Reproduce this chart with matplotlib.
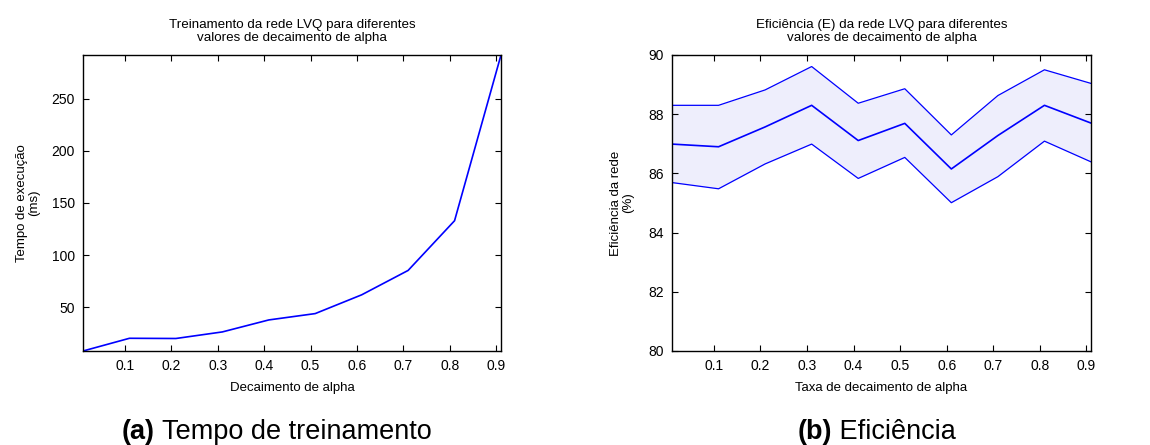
import numpy as np
import matplotlib
matplotlib.use("Agg")
import matplotlib.pyplot as plt

plt.rcParams['font.family'] = ['Liberation Sans', 'DejaVu Sans']

# Decay rates tested
decay = [0.01, 0.11, 0.21, 0.31, 0.41, 0.51, 0.61, 0.71, 0.81, 0.91]

# Training time (ms)
train_time = [8, 20.2, 20.0, 26.3, 37.8, 43.9, 61.9, 85.3, 133, 292]

# Network efficiency (%): mean and band limits
eff_upper = [88.30, 88.30, 88.82, 89.61, 88.37, 88.86, 87.30, 88.63, 89.50, 89.04]
eff_mean = [86.99, 86.90, 87.57, 88.30, 87.11, 87.69, 86.15, 87.28, 88.30, 87.70]
eff_lower = [85.69, 85.48, 86.32, 86.99, 85.83, 86.54, 85.01, 85.89, 87.09, 86.39]

xticks = [0.1, 0.2, 0.3, 0.4, 0.5, 0.6, 0.7, 0.8, 0.9]
xticklabels = ['0.1', '0.2', '0.3', '0.4', '0.5', '0.6', '0.7', '0.8', '0.9']

W, H = 1150, 445
fig = plt.figure(figsize=(W / 100, H / 100), dpi=100)

def axrect(x0, y0, x1, y1):
    return [x0 / W, 1 - y1 / H, (x1 - x0) / W, (y1 - y0) / H]

ax1 = fig.add_axes(axrect(83, 55, 501, 351))
ax2 = fig.add_axes(axrect(672, 55, 1091, 351))

def style(ax):
    ax.tick_params(direction='in', top=True, right=True, length=4, width=0.8,
                   labelsize=10, pad=6, colors='black')
    for s in ax.spines.values():
        s.set_linewidth(1.0)
    ax.set_xticks(xticks)
    ax.set_xticklabels(xticklabels)
    ax.set_xlim(0.01, 0.91)

TITLE_SIZE = 9.6

# (a) training time
ax1.plot(decay, train_time, color='#0000ff', lw=1.2)
style(ax1)
ax1.set_ylim(8, 292)
ax1.set_yticks([50, 100, 150, 200, 250])
ax1.set_title('Treinamento da rede LVQ para diferentes\nvalores de decaimento de alpha',
              fontsize=TITLE_SIZE, pad=10, linespacing=1.15)
ax1.set_xlabel('Decaimento de alpha', fontsize=9.5, labelpad=6)
ax1.set_ylabel('Tempo de execução\n(ms)', fontsize=9.5, labelpad=8, linespacing=1.0)

# (b) efficiency
ax2.fill_between(decay, eff_lower, eff_upper, color='#eeeefc', lw=0)
ax2.plot(decay, eff_upper, color='#0000ff', lw=0.9)
ax2.plot(decay, eff_mean, color='#0000ff', lw=1.2)
ax2.plot(decay, eff_lower, color='#0000ff', lw=0.9)
style(ax2)
ax2.set_ylim(80, 90)
ax2.set_yticks([80, 82, 84, 86, 88, 90])
ax2.set_title('Eficiência (E) da rede LVQ para diferentes\nvalores de decaimento de alpha',
              fontsize=TITLE_SIZE, pad=10, linespacing=1.15)
ax2.set_xlabel('Taxa de decaimento de alpha', fontsize=9.5, labelpad=6)
ax2.set_ylabel('Eficiência da rede\n(%)', fontsize=9.5, labelpad=10, linespacing=1.0)

CAP_SIZE = 19.5
CAP_Y = 1 - 432 / H

def caption(xc, bold, rest):
    # measure the whole caption, then place bold label and plain text side by side
    probe = fig.text(xc / W, CAP_Y, bold + ' ' + rest, fontsize=CAP_SIZE,
                     ha='center', va='center', color='white')
    fig.canvas.draw()
    bb = probe.get_window_extent()
    probe.remove()
    x0 = bb.x0 / fig.dpi / fig.get_figwidth()
    b = fig.text(x0, CAP_Y, bold, fontsize=CAP_SIZE, fontweight='bold',
                 ha='left', va='center')
    fig.canvas.draw()
    bb2 = b.get_window_extent()
    fig.text(bb2.x1 / fig.dpi / fig.get_figwidth(), CAP_Y, ' ' + rest,
             fontsize=CAP_SIZE, ha='left', va='center')

caption(277, '(a)', 'Tempo de treinamento')
caption(876, '(b)', 'Eficiência')

fig.savefig('out.png', dpi=100)
